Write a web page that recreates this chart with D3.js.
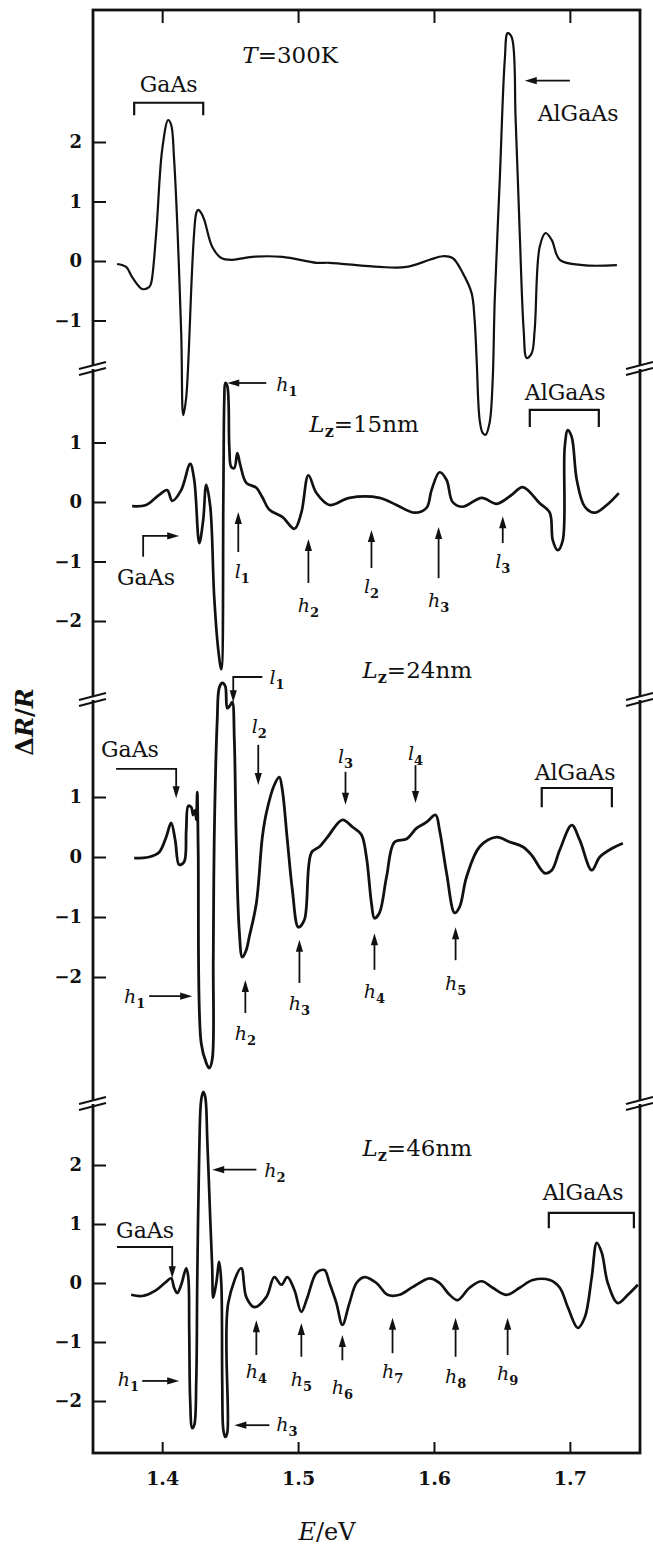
<!DOCTYPE html>
<html>
<head>
<meta charset="utf-8">
<script src="https://cdn.jsdelivr.net/npm/d3@7"></script>
<style>
  body { margin: 0; background: #fff; }
  svg text { font-family: "DejaVu Serif", "Liberation Serif", serif; fill: #111; }
</style>
</head>
<body>
<div id="chart"></div>
<script>

// ---- data: photon energy (eV) and ΔR/R for each spectrum ----

// bulk reference, T = 300K
const e300 = [1.3668, 1.3735, 1.3779, 1.3853, 1.3904, 1.3919, 1.3956, 1.4000, 1.4044, 1.4066,
  1.4088, 1.4140, 1.4155, 1.4177, 1.4251, 1.4265, 1.4287, 1.4310, 1.4368, 1.4435,
  1.4516, 1.4663, 1.4884, 1.5135, 1.5231, 1.5599, 1.5798, 1.5968, 1.6063, 1.6137,
  1.6211, 1.6277, 1.6299, 1.6314, 1.6336, 1.6358, 1.6380, 1.6410, 1.6432, 1.6447,
  1.6484, 1.6521, 1.6542, 1.6572, 1.6601, 1.6631, 1.6660, 1.6682, 1.6719, 1.6741,
  1.6778, 1.6822, 1.6867, 1.6926, 1.7095, 1.7346];
const r300 = [-0.05, -0.10, -0.27, -0.47, -0.44, -0.37, 0.47, 1.87, 2.37, 2.29,
  1.70, -1.21, -2.59, -2.29, 0.81, 0.86, 0.81, 0.69, 0.24, 0.05,
  0.02, 0.07, 0.07, -0.03, -0.03, -0.10, -0.10, 0.02, 0.08, 0.05,
  -0.20, -0.54, -0.99, -1.66, -2.67, -2.89, -2.92, -2.71, -2.00, -0.66,
  1.36, 3.38, 3.83, 3.76, 2.37, 0.47, -1.16, -1.63, -1.55, -1.16,
  0.24, 0.47, 0.35, 0.02, -0.07, -0.07];

// Lz = 15nm
const e15 = [1.3779, 1.3882, 1.3978, 1.4037, 1.4074, 1.4140, 1.4206, 1.4236, 1.4273, 1.4302,
  1.4324, 1.4354, 1.4383, 1.4413, 1.4435, 1.4450, 1.4457, 1.4464, 1.4479, 1.4494,
  1.4508, 1.4531, 1.4553, 1.4575, 1.4619, 1.4693, 1.4737, 1.4789, 1.4884, 1.4973,
  1.5024, 1.5076, 1.5135, 1.5231, 1.5378, 1.5599, 1.5724, 1.5857, 1.5945, 1.5982,
  1.6041, 1.6093, 1.6137, 1.6211, 1.6351, 1.6461, 1.6572, 1.6653, 1.6778, 1.6852,
  1.6874, 1.6911, 1.6948, 1.6962, 1.6985, 1.7014, 1.7051, 1.7110, 1.7183, 1.7272,
  1.7360];
const r15 = [-0.07, -0.05, 0.12, 0.20, 0.02, 0.20, 0.64, 0.37, -0.69, -0.30,
  0.29, -0.08, -1.60, -2.49, -2.81, 0.03, 1.71, 2.00, 1.95, 0.92,
  0.59, 0.57, 0.82, 0.62, 0.32, 0.24, 0.08, -0.13, -0.25, -0.45,
  -0.18, 0.45, 0.15, -0.05, 0.07, 0.07, -0.05, -0.18, -0.10, 0.20,
  0.50, 0.37, 0.00, -0.08, 0.07, -0.03, 0.12, 0.25, -0.02, -0.18,
  -0.64, -0.81, -0.64, 0.92, 1.21, 1.09, 0.37, -0.08, -0.18, -0.05,
  0.15];

// Lz = 24nm
const e24 = [1.3794, 1.3904, 1.3978, 1.4029, 1.4066, 1.4096, 1.4125, 1.4162, 1.4177, 1.4192,
  1.4214, 1.4228, 1.4243, 1.4251, 1.4258, 1.4265, 1.4287, 1.4324, 1.4346, 1.4368,
  1.4376, 1.4383, 1.4405, 1.4420, 1.4442, 1.4464, 1.4479, 1.4501, 1.4516, 1.4531,
  1.4545, 1.4567, 1.4590, 1.4619, 1.4641, 1.4693, 1.4737, 1.4766, 1.4825, 1.4862,
  1.4884, 1.4921, 1.4958, 1.5002, 1.5046, 1.5098, 1.5157, 1.5216, 1.5326, 1.5400,
  1.5466, 1.5503, 1.5540, 1.5562, 1.5599, 1.5651, 1.5710, 1.5798, 1.5872, 1.5945,
  1.6012, 1.6041, 1.6093, 1.6152, 1.6189, 1.6240, 1.6336, 1.6461, 1.6557, 1.6653,
  1.6719, 1.6815, 1.6867, 1.6926, 1.7014, 1.7073, 1.7161, 1.7220, 1.7316, 1.7390];
const r24 = [-0.02, 0.00, 0.08, 0.33, 0.57, 0.28, -0.13, -0.08, 0.45, 0.85,
  0.83, 0.70, 0.78, 0.62, 1.08, 0.12, -3.10, -3.43, -3.52, -3.38,
  -1.72, 0.28, 2.28, 2.82, 2.90, 2.85, 2.48, 2.53, 2.58, 1.95,
  0.28, -1.22, -1.67, -1.55, -1.33, -0.77, 0.33, 0.73, 1.20, 1.33,
  1.12, 0.28, -0.55, -1.17, -1.05, 0.07, 0.17, 0.33, 0.62, 0.50,
  0.37, 0.00, -0.77, -1.02, -0.93, -0.33, 0.25, 0.30, 0.48, 0.58,
  0.70, 0.45, -0.27, -0.93, -0.83, -0.33, 0.17, 0.33, 0.25, 0.17,
  0.03, -0.27, -0.22, 0.12, 0.53, 0.28, -0.22, 0.00, 0.15, 0.23];

// Lz = 46nm
const e46 = [1.3772, 1.3853, 1.3956, 1.4029, 1.4066, 1.4088, 1.4111, 1.4140, 1.4177, 1.4192,
  1.4199, 1.4206, 1.4221, 1.4236, 1.4251, 1.4258, 1.4273, 1.4287, 1.4302, 1.4317,
  1.4332, 1.4354, 1.4368, 1.4376, 1.4398, 1.4420, 1.4435, 1.4442, 1.4450, 1.4464,
  1.4479, 1.4486, 1.4582, 1.4619, 1.4678, 1.4766, 1.4825, 1.4877, 1.4921, 1.4973,
  1.5024, 1.5069, 1.5135, 1.5194, 1.5231, 1.5282, 1.5326, 1.5378, 1.5430, 1.5489,
  1.5577, 1.5658, 1.5747, 1.5842, 1.5968, 1.6041, 1.6115, 1.6174, 1.6262, 1.6351,
  1.6432, 1.6535, 1.6631, 1.6727, 1.6852, 1.6926, 1.6985, 1.7058, 1.7110, 1.7161,
  1.7198, 1.7235, 1.7279, 1.7353, 1.7427, 1.7500];
const r46 = [-0.20, -0.22, -0.12, 0.02, 0.08, -0.08, -0.17, -0.03, 0.25, 0.10,
  -0.80, -1.98, -2.46, -2.41, -1.64, 0.00, 2.25, 3.10, 3.24, 3.15,
  2.42, 1.07, 0.27, -0.25, 0.00, 0.36, 0.00, -1.69, -2.49, -2.61,
  -2.54, -0.34, 0.25, -0.24, -0.41, -0.24, 0.10, -0.03, 0.10, -0.12,
  -0.49, -0.24, 0.17, 0.22, 0.00, -0.34, -0.71, -0.34, 0.00, 0.10,
  0.00, -0.20, -0.20, -0.07, 0.08, 0.00, -0.20, -0.29, -0.08, 0.03,
  -0.08, -0.20, -0.08, 0.05, 0.05, -0.08, -0.41, -0.76, -0.58, 0.10,
  0.68, 0.51, 0.00, -0.34, -0.20, -0.03];

// tick labels
const xTicks = [1.4, 1.5, 1.6, 1.7];
const ticks300 = [2, 1, 0, -1];
const ticks15 = [1, 0, -1, -2];
const ticks24 = [1, 0, -1, -2];
const ticks46 = [2, 1, 0, -1, -2];

// annotations (energy, ΔR/R) - text parts: i = italic, s = subscript
const notes300 = [
  {e: 1.459, v: 3.33, parts: [["T", "i"], ["=300K", ""]], size: 23},
  {e: 1.4048, v: 2.84, parts: [["GaAs", ""]], size: 22, anchor: "middle"},
  {e: 1.6763, v: 2.36, parts: [["AlGaAs", ""]], size: 22}
];
const notes15 = [
  {e: 1.484, v: 1.86, parts: [["h", "i"], ["1", "s"]]},
  {e: 1.5083, v: 1.18, parts: [["L", "i"], ["z", "s"], ["=15nm", ""]], size: 23},
  {e: 1.3668, v: -1.39, parts: [["GaAs", ""]], size: 22},
  {e: 1.459, v: -1.28, parts: [["l", "i"], ["1", "s"]], anchor: "middle"},
  {e: 1.5076, v: -1.85, parts: [["h", "i"], ["2", "s"]], anchor: "middle"},
  {e: 1.554, v: -1.53, parts: [["l", "i"], ["2", "s"]], anchor: "middle"},
  {e: 1.6034, v: -1.76, parts: [["h", "i"], ["3", "s"]], anchor: "middle"},
  {e: 1.6506, v: -1.11, parts: [["l", "i"], ["3", "s"]], anchor: "middle"},
  {e: 1.6668, v: 1.71, parts: [["AlGaAs", ""]], size: 22}
];
const notes24 = [
  {e: 1.5474, v: 2.98, parts: [["L", "i"], ["z", "s"], ["=24nm", ""]], size: 23},
  {e: 1.4789, v: 2.88, parts: [["l", "i"], ["1", "s"]]},
  {e: 1.4715, v: 2.07, parts: [["l", "i"], ["2", "s"]], anchor: "middle"},
  {e: 1.355, v: 1.67, parts: [["GaAs", ""]], size: 22},
  {e: 1.3875, v: -2.43, parts: [["h", "i"], ["1", "s"]], anchor: "end"},
  {e: 1.4612, v: -3.05, parts: [["h", "i"], ["2", "s"]], anchor: "middle"},
  {e: 1.501, v: -2.55, parts: [["h", "i"], ["3", "s"]], anchor: "middle"},
  {e: 1.5349, v: 1.57, parts: [["l", "i"], ["3", "s"]], anchor: "middle"},
  {e: 1.5864, v: 1.62, parts: [["l", "i"], ["4", "s"]], anchor: "middle"},
  {e: 1.5562, v: -2.35, parts: [["h", "i"], ["4", "s"]], anchor: "middle"},
  {e: 1.6159, v: -2.22, parts: [["h", "i"], ["5", "s"]], anchor: "middle"},
  {e: 1.6741, v: 1.28, parts: [["AlGaAs", ""]], size: 22}
];
const notes46 = [
  {e: 1.5474, v: 2.15, parts: [["L", "i"], ["z", "s"], ["=46nm", ""]], size: 23},
  {e: 1.68, v: 1.41, parts: [["AlGaAs", ""]], size: 22},
  {e: 1.4752, v: 1.80, parts: [["h", "i"], ["2", "s"]]},
  {e: 1.3661, v: 0.76, parts: [["GaAs", ""]], size: 22},
  {e: 1.383, v: -1.74, parts: [["h", "i"], ["1", "s"]], anchor: "end"},
  {e: 1.484, v: -2.51, parts: [["h", "i"], ["3", "s"]]},
  {e: 1.4693, v: -1.61, parts: [["h", "i"], ["4", "s"]], anchor: "middle"},
  {e: 1.5024, v: -1.75, parts: [["h", "i"], ["5", "s"]], anchor: "middle"},
  {e: 1.5326, v: -1.88, parts: [["h", "i"], ["6", "s"]], anchor: "middle"},
  {e: 1.5695, v: -1.61, parts: [["h", "i"], ["7", "s"]], anchor: "middle"},
  {e: 1.6159, v: -1.69, parts: [["h", "i"], ["8", "s"]], anchor: "middle"},
  {e: 1.6542, v: -1.64, parts: [["h", "i"], ["9", "s"]], anchor: "middle"}
];

// arrows: polyline in (energy, ΔR/R), head at the last point
const arrows300 = [[[1.700, 3.03], [1.6668, 3.03]]];
const arrows15 = [
  [[1.4766, 2.0], [1.4479, 2.0]],
  [[1.386, -0.92], [1.386, -0.57], [1.4125, -0.57]],
  [[1.456, -0.84], [1.456, -0.17]],
  [[1.5076, -1.36], [1.5076, -0.62]],
  [[1.554, -1.11], [1.554, -0.47]],
  [[1.6034, -1.28], [1.6034, -0.42]],
  [[1.6506, -0.69], [1.6506, -0.24]]
];
const arrows24 = [
  [[1.4737, 3.0], [1.4523, 3.0], [1.4523, 2.58]],
  [[1.4707, 1.87], [1.4707, 1.2]],
  [[1.3661, 1.47], [1.4103, 1.47], [1.4103, 0.98]],
  [[1.3904, -2.32], [1.4221, -2.32]],
  [[1.4612, -2.6], [1.4612, -2.05]],
  [[1.501, -2.1], [1.501, -1.38]],
  [[1.5349, 1.42], [1.5349, 0.87]],
  [[1.5864, 1.53], [1.5864, 0.9]],
  [[1.5562, -1.88], [1.5562, -1.27]],
  [[1.6159, -1.72], [1.6159, -1.17]]
];
const arrows46 = [
  [[1.4693, 1.92], [1.4368, 1.92]],
  [[1.3668, 0.61], [1.4074, 0.61], [1.4074, 0.08]],
  [[1.3853, -1.66], [1.4125, -1.66]],
  [[1.4789, -2.41], [1.4531, -2.41]],
  [[1.4693, -1.22], [1.4693, -0.63]],
  [[1.5024, -1.25], [1.5024, -0.68]],
  [[1.5326, -1.31], [1.5326, -0.88]],
  [[1.5695, -1.19], [1.5695, -0.59]],
  [[1.6159, -1.25], [1.6159, -0.59]],
  [[1.6542, -1.22], [1.6542, -0.59]]
];

// brackets over the GaAs / AlGaAs features
const brackets300 = [{e1: 1.3794, e2: 1.4302, v: 2.66, leg: 2.45}];
const brackets15 = [{e1: 1.6705, e2: 1.7213, v: 1.55, leg: 1.26}];
const brackets24 = [{e1: 1.6793, e2: 1.7309, v: 1.15, leg: 0.83}];
const brackets46 = [{e1: 1.6845, e2: 1.7471, v: 1.19, leg: 0.93}];

// ---- layout ----
const W = 653, H = 1546;
const frame = {left: 93, right: 640, top: 10, bottom: 1453};
const breaksY = [366, 697, 1101];
const ink = "#111";

const panels = [
  {zero: 261, unit: 59.5, ticks: ticks300, e: e300, r: r300, notes: notes300, arrows: arrows300, brackets: brackets300, lw: 2.2},
  {zero: 502, unit: 59.5, ticks: ticks15, e: e15, r: r15, notes: notes15, arrows: arrows15, brackets: brackets15, lw: 2.7},
  {zero: 857, unit: 60, ticks: ticks24, e: e24, r: r24, notes: notes24, arrows: arrows24, brackets: brackets24, lw: 2.8},
  {zero: 1283, unit: 59, ticks: ticks46, e: e46, r: r46, notes: notes46, arrows: arrows46, brackets: brackets46, lw: 2.7}
];

const svg = d3.select("#chart").append("svg")
  .attr("width", W).attr("height", H)
  .attr("viewBox", [0, 0, W, H].join(" "));

svg.append("rect").attr("width", W).attr("height", H).attr("fill", "#fff");

// shared energy scale
const x = d3.scaleLinear().domain([1.3491, 1.7516]).range([frame.left, frame.right]);

// frame
svg.append("rect")
  .attr("x", frame.left).attr("y", frame.top)
  .attr("width", frame.right - frame.left).attr("height", frame.bottom - frame.top)
  .attr("fill", "none").attr("stroke", ink).attr("stroke-width", 2.8);

// bottom axis with labels
const xAxis = svg.append("g")
  .attr("transform", `translate(0,${frame.bottom})`)
  .call(d3.axisBottom(x).tickValues(xTicks).tickSizeInner(-11).tickSizeOuter(0)
    .tickPadding(19).tickFormat(d3.format(".1f")));
xAxis.select(".domain").remove();
xAxis.selectAll("line").attr("stroke", ink).attr("stroke-width", 2);
xAxis.selectAll("text").attr("font-family", "DejaVu Serif, serif")
  .attr("font-size", 19).attr("font-weight", "bold").attr("fill", ink);

// top axis, ticks only
const xTop = svg.append("g")
  .attr("transform", `translate(0,${frame.top})`)
  .call(d3.axisTop(x).tickValues(xTicks).tickSizeInner(-13).tickSizeOuter(0).tickFormat(() => ""));
xTop.select(".domain").remove();
xTop.selectAll("line").attr("stroke", ink).attr("stroke-width", 2);

const line = d3.line().curve(d3.curveCatmullRom.alpha(0.5));

function addLabel(g, y, d) {
  const size = d.size || 19;
  const t = g.append("text")
    .attr("x", x(d.e)).attr("y", y(d.v))
    .attr("text-anchor", d.anchor || "start")
    .attr("font-size", size);
  let shifted = false;
  d.parts.forEach(([s, st]) => {
    const ts = t.append("tspan").text(s);
    if (st.includes("i")) ts.attr("font-style", "italic");
    if (st.includes("s")) {
      ts.attr("font-size", Math.round(size * 0.68)).attr("font-weight", "bold");
      if (!shifted) { ts.attr("dy", 5); shifted = true; }
    } else if (shifted) {
      ts.attr("dy", -5); shifted = false;
    }
  });
}

function addArrow(g, y, pts) {
  const p = pts.map(d => [x(d[0]), y(d[1])]);
  const a = p[p.length - 2], b = p[p.length - 1];
  const dx = b[0] - a[0], dy = b[1] - a[1], len = Math.hypot(dx, dy);
  const ux = dx / len, uy = dy / len, L = 12, hw = 3.6;
  const base = [b[0] - ux * L, b[1] - uy * L];
  const shaft = p.slice(0, -1).concat([[base[0] + ux * 2, base[1] + uy * 2]]);
  g.append("path").attr("d", d3.line()(shaft))
    .attr("fill", "none").attr("stroke", ink).attr("stroke-width", 1.8);
  g.append("path")
    .attr("d", d3.line()([b, [base[0] - uy * hw, base[1] + ux * hw], [base[0] + uy * hw, base[1] - ux * hw]]) + "Z")
    .attr("fill", ink);
}

panels.forEach(p => {
  const y = d3.scaleLinear().domain([0, 1]).range([p.zero, p.zero - p.unit]);
  const g = svg.append("g");

  // left axis ticks
  const yAxis = g.append("g")
    .attr("transform", `translate(${frame.left},0)`)
    .call(d3.axisLeft(y).tickValues(p.ticks).tickSizeInner(-13).tickSizeOuter(0)
      .tickPadding(11).tickFormat(d3.format("d")));
  yAxis.select(".domain").remove();
  yAxis.selectAll("line").attr("stroke", ink).attr("stroke-width", 2);
  yAxis.selectAll("text").attr("font-family", "DejaVu Serif, serif")
    .attr("font-size", 18).attr("font-weight", "bold").attr("fill", ink);

  // spectrum
  g.append("path")
    .attr("d", line(p.e.map((e, i) => [x(e), y(p.r[i])])))
    .attr("fill", "none").attr("stroke", ink)
    .attr("stroke-width", p.lw).attr("stroke-linejoin", "round");

  // brackets
  p.brackets.forEach(b => {
    g.append("path")
      .attr("d", d3.line()([[x(b.e1), y(b.leg)], [x(b.e1), y(b.v)], [x(b.e2), y(b.v)], [x(b.e2), y(b.leg)]]))
      .attr("fill", "none").attr("stroke", ink).attr("stroke-width", 2.2);
  });

  p.arrows.forEach(a => addArrow(g, y, a));
  p.notes.forEach(d => addLabel(g, y, d));
});

// axis break marks between the panels
breaksY.forEach(yb => {
  [frame.left, frame.right].forEach(xb => {
    svg.append("rect").attr("x", xb - 4).attr("y", yb - 1).attr("width", 8).attr("height", 4).attr("fill", "#fff");
    [0, 6].forEach(off => {
      svg.append("line")
        .attr("x1", xb - 14).attr("y1", yb + 3 + off)
        .attr("x2", xb + 13).attr("y2", yb - 4 + off)
        .attr("stroke", ink).attr("stroke-width", 2);
    });
  });
});

// axis titles
const yTitle = svg.append("text")
  .attr("transform", "translate(33,722) rotate(-90)")
  .attr("text-anchor", "middle").attr("font-size", 24).attr("font-weight", "bold");
yTitle.append("tspan").text("Δ");
yTitle.append("tspan").attr("font-style", "italic").text("R");
yTitle.append("tspan").text("/");
yTitle.append("tspan").attr("font-style", "italic").text("R");

const xTitle = svg.append("text")
  .attr("x", 327).attr("y", 1540)
  .attr("text-anchor", "middle").attr("font-size", 24);
xTitle.append("tspan").attr("font-style", "italic").text("E");
xTitle.append("tspan").text("/eV");

</script>
</body>
</html>
